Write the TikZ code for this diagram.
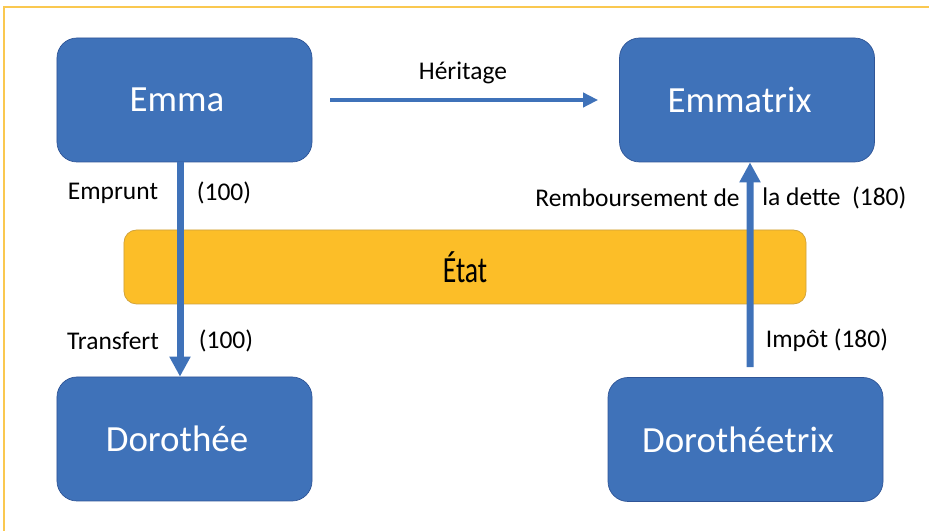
\documentclass[tikz,border=0pt]{standalone}
\usepackage{fontspec}
\setmainfont{Carlito}
\usepackage{tikz}
\usetikzlibrary{arrows.meta}
\usetikzlibrary{calc}
\definecolor{boxblue}{RGB}{63,114,185}
\definecolor{boxedge}{RGB}{47,85,151}
\definecolor{etatfill}{RGB}{252,190,40}
\definecolor{etatedge}{RGB}{205,160,60}
\definecolor{framecol}{RGB}{250,200,80}
\tikzset{
  agent/.style={shape=rectangle,rounded corners=4mm,draw=boxedge,fill=boxblue,
    text=white,inner sep=0pt,minimum width=51mm,minimum height=24.8mm,
    font=\fontsize{21}{25}\selectfont,execute at end node={\hspace*{3mm}}},
  etatbox/.style={shape=rectangle,rounded corners=2.5mm,draw=etatedge,fill=etatfill,
    inner sep=0pt,minimum width=136.4mm,minimum height=14.8mm,
    font=\fontsize{21}{25}\selectfont},
  flux/.style={draw=boxblue,line width=1.4mm,-{Triangle[width=4mm,length=4mm]}},
  lbl/.style={font=\fontsize{14.5}{17}\selectfont,inner sep=0pt}
}
\begin{document}
\begin{tikzpicture}[x=0.2mm,y=-0.2mm]
\useasboundingbox (0,0) rectangle (929,531);
\draw [framecol,line width=0.3mm] (929,7) -- (4,7) -- (4,531);
\path
(184.5,100) node [agent](emma) {Emma}
(747,100) node [agent](emmatrix) {Emmatrix}
(184.5,439) node [agent](doro) {Dorothée}
(745.5,439.5) node [agent,minimum width=55mm](dorotrix) {Dorothéetrix}
(465,267) node [etatbox](etat) {\scalebox{0.75}[1]{État}};
\draw [flux,line width=0.8mm,-{Triangle[width=2.8mm,length=3mm]},shorten <=3.6mm,shorten >=4.2mm](emma) --(emmatrix);
\node [lbl](heritage) at (463,73) {Héritage};
\draw [flux]([xshift=-0.9mm]emma.south) --([xshift=-0.9mm]doro.north);
\node [lbl](emprunt) at (113,193) {Emprunt};
\node [lbl](emprval) at (224,193) {(100)};
\node [lbl](transfert) at (113,341) {Transfert};
\node [lbl](transval) at (226,341) {(100)};
\draw [flux]($(dorotrix.north)+(4.5,-10)$) --([xshift=0.6mm]emmatrix.south);
\node [lbl,anchor=east](rembA) at (740,198) {Remboursement de};
\node [lbl,anchor=west](rembB) at (762,198) {la dette\ \ (180)};
\node [lbl](impot) at (827,340) {Impôt (180)};
\end{tikzpicture}
\end{document}
